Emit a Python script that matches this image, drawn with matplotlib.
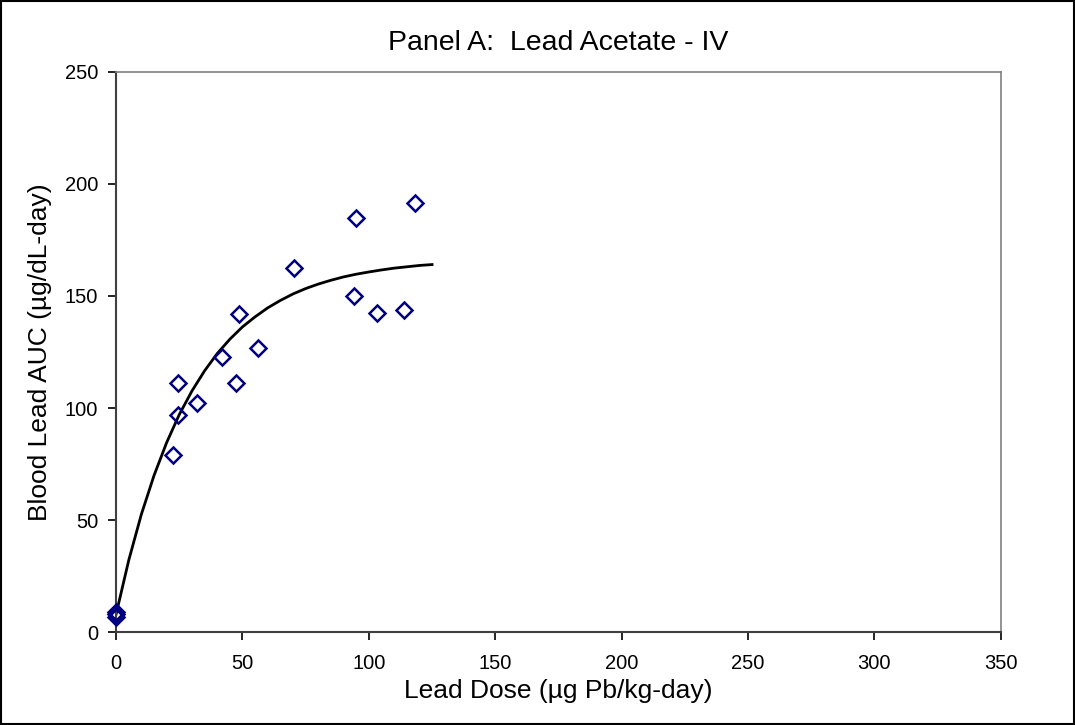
import matplotlib
matplotlib.use("Agg")
import matplotlib.pyplot as plt

plt.rcParams['font.family'] = ['Liberation Sans', 'DejaVu Sans']

# observed data (dose, blood lead AUC)
dose = [0, 0, 0, 22.4, 24.6, 24.6, 32.2, 41.8, 47.3, 48.5, 56.1, 70.2,
        94.2, 95.0, 103.3, 114.0, 118.3]
auc = [9, 7, 8, 79, 111.3, 96.9, 102.1, 122.9, 111, 141.8, 126.6, 162.6,
       150, 184.8, 142.6, 143.6, 191.5]

# fitted curve
fit_dose = [0, 5, 10, 15, 20, 25, 30, 35, 40, 45, 50, 55, 60, 65, 70, 75,
            80, 85, 90, 95, 100, 105, 110, 115, 120, 125]
fit_auc = [8, 32.1, 52.6, 69.9, 84.6, 97.1, 107.6, 116.6, 124.3, 130.7,
           136.2, 140.7, 144.7, 148, 150.9, 153.3, 155.3, 157, 158.5, 159.7,
           160.7, 161.6, 162.4, 163, 163.6, 164]

fig = plt.figure(figsize=(10.75, 7.25), dpi=100)
ax = fig.add_axes([0.108, 0.128, 0.823, 0.773])

ax.plot(fit_dose, fit_auc, color='black', lw=2, zorder=2)
ax.plot(dose, auc, linestyle='none', marker='D', ms=8, mfc='none',
        mec='#000080', mew=1.8, clip_on=False, zorder=3)

ax.set_xlim(0, 350)
ax.set_ylim(0, 250)
ax.set_xticks(range(0, 351, 50))
ax.set_yticks(range(0, 251, 50))
ax.tick_params(direction='out', length=6, labelsize=14.5, colors='black',
               width=1.2)
ax.tick_params(axis='x', pad=10)
ax.tick_params(axis='y', pad=7)

for s in ['top', 'right']:
    ax.spines[s].set_color('#808080')
    ax.spines[s].set_linewidth(1.2)
for s in ['left', 'bottom']:
    ax.spines[s].set_color('#404040')
    ax.spines[s].set_linewidth(1.5)

ax.set_xlabel('Lead Dose (µg Pb/kg-day)', fontsize=19, labelpad=4)
ax.set_ylabel('Blood Lead AUC (µg/dL-day)', fontsize=19, labelpad=9)
ax.set_title('Panel A:  Lead Acetate - IV', fontsize=20.5, pad=16)

# outer frame around the whole chart
fig.patches.append(plt.Rectangle((0.001, 0.001), 0.998, 0.997,
                                 transform=fig.transFigure, fill=False,
                                 edgecolor='black', lw=1.5))

fig.savefig('out.png', dpi=100)
